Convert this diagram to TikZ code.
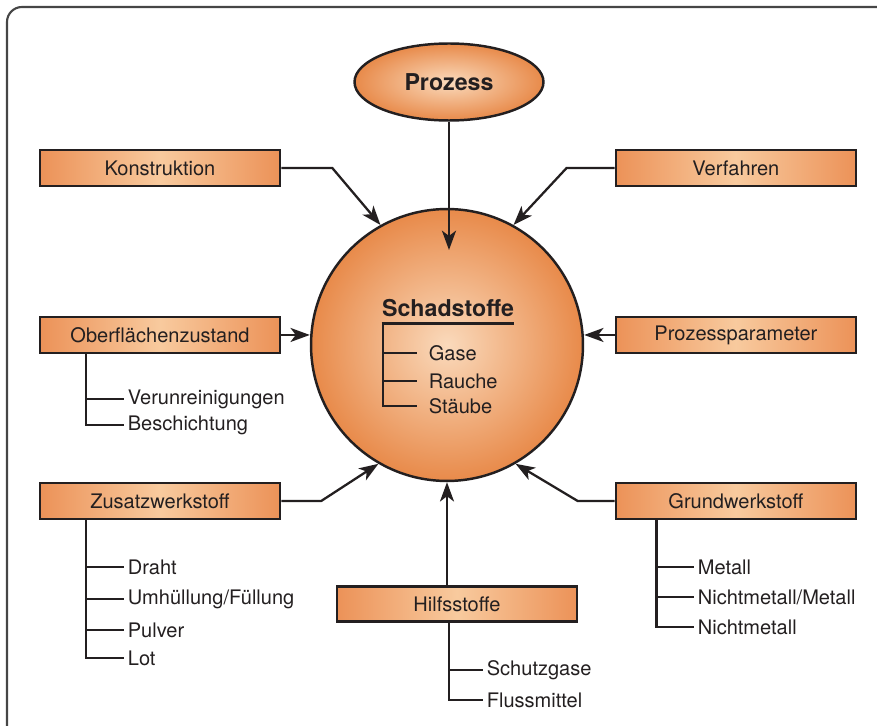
\documentclass[tikz,border=0pt]{standalone}
\usepackage{fontspec}
\setmainfont{TeX Gyre Heros}
\usetikzlibrary{arrows.meta,calc,shapes.geometric}

\definecolor{boxedge}{RGB}{236,146,88}
\definecolor{boxmid}{RGB}{248,202,158}
\definecolor{ballin}{RGB}{250,218,188}
\definecolor{ballout}{RGB}{232,138,74}
\definecolor{ink}{RGB}{35,31,32}
\definecolor{rim}{RGB}{70,70,70}

\begin{document}
\begin{tikzpicture}[x=0.02cm, y=-0.02cm, >={Stealth[length=11pt,width=8pt,inset=3pt]}, node distance=3.34cm, font=\fontsize{11.4}{13}\selectfont, ink]

% Styles
\tikzstyle{box} = [draw=ink, line width=1.5pt, rectangle, minimum width=4.8cm, minimum height=0.72cm, inner sep=0pt, left color=boxedge, right color=boxedge, middle color=boxmid]
\tikzstyle{item} = [anchor=west, inner sep=2pt]
\tikzstyle{arr} = [->, line width=1.3pt, draw=ink]
\tikzstyle{tree} = [line width=1.3pt, draw=ink]
\tikzstyle{head} = [font=\fontsize{13.2}{15}\selectfont\bfseries]

% Frame
\useasboundingbox (0,0) rectangle (877,726);
\draw[line width=1.2pt, draw=rim, rounded corners=0.3cm] (7,7) rectangle (895,745);

% Centre
\node[ellipse, draw=ink, line width=1.4pt, minimum width=3.78cm, minimum height=1.54cm, inner sep=0pt, inner color=ballin, outer color=ballout, head] (prozess) at (449,82) {Prozess};
\node[circle, draw=ink, line width=1.4pt, minimum size=5.44cm, inner color=ballin, outer color=ballout] (schad) at (447,345) {};
\node[head, anchor=base, inner sep=0pt] (title) at (448,317) {Schadstoffe};
\draw[line width=1.4pt] ($(title.south west)+(0,6)$) -- ($(title.south east)+(0,6)$);

% Boxes
\node[box] (konstr) at (160,168) {Konstruktion};
\node[box, right of=konstr, node distance=11.52cm] (verf) {Verfahren};
\node[box, below of=konstr] (oberfl) {Oberflächenzustand};
\node[box, below of=verf] (param) {Prozessparameter};
\node[box, below of=oberfl, node distance=3.32cm] (zusatz) {Zusatzwerkstoff};
\node[box, below of=param, node distance=3.32cm] (grund) {Grundwerkstoff};
\node[box, minimum height=0.7cm] (hilfs) at (457,604) {Hilfsstoffe};

% Sub items
\node[item] (gase) at (425,353) {Gase};
\node[item] (rauche) at (425,381) {Rauche};
\node[item] (staube) at (425,406) {Stäube};

\node[item] (verun) at (124,399) {Verunreinigungen};
\node[item] (besch) at (124,425) {Beschichtung};

\node[item] (draht) at (124,567) {Draht};
\node[item] (umh) at (124,599) {Umhüllung/Füllung};
\node[item] (pulver) at (124,630) {Pulver};
\node[item] (lot) at (124,658) {Lot};

\node[item] (metall) at (694,567) {Metall};
\node[item] (nmm) at (694,597) {Nichtmetall/Metall};
\node[item] (nm) at (694,627) {Nichtmetall};

\node[item] (schutz) at (483,670) {Schutzgase};
\node[item] (fluss) at (483,700) {Flussmittel};

% Trees
\foreach \n in {gase,rauche,staube}
  \draw[tree, shorten >=4.3pt] ($(title.south west)+(1,6)$) |- (\n.west);
\foreach \n in {verun,besch}
  \draw[tree] ($(oberfl.south west)+(47,0)$) |- (\n.west);
\foreach \n in {draht,umh,pulver,lot}
  \draw[tree] ($(zusatz.south west)+(47,0)$) |- (\n.west);
\foreach \n in {metall,nmm,nm}
  \draw[tree] ($(grund.south west)+(42,0)$) |- (\n.west);
\foreach \n in {schutz,fluss}
  \draw[tree] ($(hilfs.south west)+(113,0)$) |- (\n.west);

% Arrows
\coordinate (ptip) at (449,250);
\draw[arr] (prozess.south) -- (ptip);
\draw[arr] (konstr.east) -- ++(51,0) -- (schad.119);
\draw[arr] (verf.west) -- ++(-48,0) -- (schad.61);
\draw[arr] (oberfl.east) -- (oberfl.east -| schad.west);
\draw[arr] (param.west) -- (param.west -| schad.east);
\draw[arr] (zusatz.east) -- ++(40,0) -- (schad.-120);
\draw[arr] (grund.west) -- ++(-37,0) -- (schad.-60);
\draw[arr] (hilfs.north -| schad.south) -- (schad.south);

\end{tikzpicture}
\end{document}
